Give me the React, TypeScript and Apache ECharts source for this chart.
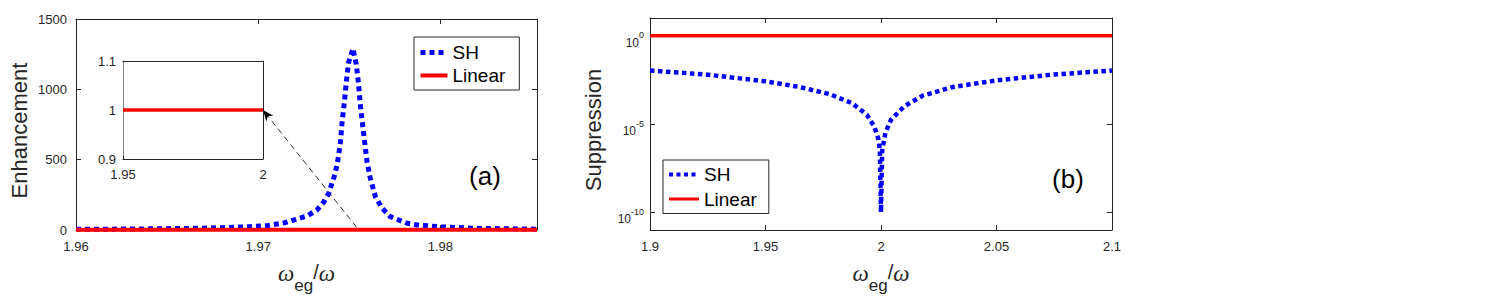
import React, { useEffect, useRef } from 'react';
import * as echarts from 'echarts';

// ---------- data ----------
// Panel (a): enhancement vs omega_eg/omega
const shAX = [1.96, 1.962, 1.964, 1.966, 1.968, 1.9695, 1.97048, 1.97148, 1.97268, 1.97323, 1.97359, 1.97387, 1.97405, 1.97423, 1.97436, 1.97451, 1.9746, 1.97473, 1.97484, 1.97496, 1.9752, 1.97538, 1.97551, 1.9756, 1.97575, 1.97588, 1.97597, 1.97615, 1.97643, 1.9768, 1.97725, 1.97817, 1.97872, 1.98, 1.982, 1.984, 1.9853];
const shAY = [5, 6, 8, 11, 16, 24, 31, 52, 100, 143, 198, 262, 333, 405, 488, 619, 762, 912, 1059, 1190, 1290, 1179, 1036, 893, 726, 583, 488, 369, 238, 155, 95, 48, 36, 22, 12, 8, 6];
const linAX = [1.96, 1.9853];
const linAY = [1, 1];
// inset of panel (a)
const insetX = [1.95, 2];
const insetY = [1, 1];
// Panel (b): suppression (log scale)
const shBX = [1.9, 1.925, 1.95, 1.965, 1.978, 1.9875, 1.9939, 1.9971, 1.999, 1.9995, 2.0, 2.0005, 2.0019, 2.0043, 2.01, 2.018, 2.031, 2.05, 2.074, 2.1];
const shBY = [1.07e-2, 6.2e-3, 2.6e-3, 1.23e-3, 4.8e-4, 1.5e-4, 3.3e-5, 7.2e-6, 1.26e-6, 3e-7, 1e-10, 3e-7, 3.2e-6, 1.7e-5, 1e-4, 4e-4, 1.23e-3, 2.95e-3, 6.2e-3, 1.07e-2];
const linBX = [1.9, 2.1];
const linBY = [1, 1];

// tick labels
const ticksAX = [1.96, 1.97, 1.98];
const ticksAY = [0, 500, 1000, 1500];
const ticksInsetX = [1.95, 2];
const ticksInsetY = [0.9, 1, 1.1];
const ticksBX = [1.9, 1.95, 2, 2.05, 2.1];
const ticksBYExp = [-10, -5, 0];

// arrow annotation (data coords: from main panel to inset)
const arrowFrom = [1.9754, 20];
const arrowTo = [2, 1];

const FONT = 'Liberation Sans';
const AX = '#262626';

const pick = (ticks: number[]) => (v: number) => {
  const t = ticks.find((k) => Math.abs(k - v) < 1e-9);
  return t === undefined ? '' : String(t);
};

const logFmt = (v: number) => {
  if (!(v > 0)) return '';
  const l = Math.log10(v);
  const e = Math.round(l);
  if (Math.abs(l - e) > 1e-6 || ticksBYExp.indexOf(e) < 0) return '';
  return `{b|10}{e|${e}}`;
};

const zip = (xs: number[], ys: number[]) => xs.map((x, i) => [x, ys[i]]);

const axisLine = { show: true, onZero: false, lineStyle: { color: AX, width: 1 } };
const tick = { show: true, inside: true, length: 5, lineStyle: { color: AX, width: 1 } };
const lbl = (ticks: number[], margin = 8) => ({
  formatter: pick(ticks),
  fontSize: 13,
  color: AX,
  fontFamily: FONT,
  margin,
  showMinLabel: true,
  showMaxLabel: true,
});

const xName = '{w|ω}{s|eg}{n|/}{w|ω}';
const xNameStyle = {
  color: AX,
  rich: {
    w: { fontFamily: 'Liberation Serif', fontStyle: 'italic', fontSize: 23, color: AX, lineHeight: 22, verticalAlign: 'top' },
    n: { fontFamily: FONT, fontSize: 20, color: AX, lineHeight: 22, verticalAlign: 'top' },
    s: { fontFamily: FONT, fontSize: 17, color: AX, lineHeight: 32, verticalAlign: 'bottom' },
  },
};

const legendItem = (name: string, width: number, type?: number[]) => ({
  name,
  lineStyle: type ? { width, type } : { width },
  itemStyle: { opacity: 0 },
});

export default function App() {
  const ref = useRef<HTMLDivElement>(null);
  useEffect(() => {
    if (!ref.current) return;
    const chart = echarts.init(ref.current, undefined, { renderer: 'svg' });
    const option: any = {
      animation: false,
      backgroundColor: '#ffffff',
      grid: [
        { left: 76, top: 19, width: 461, height: 211, outerBoundsMode: 'none', containLabel: false },
        { left: 123, top: 61, width: 140, height: 98, outerBoundsMode: 'none', containLabel: false },
        { left: 650, top: 18, width: 462, height: 212, outerBoundsMode: 'none', containLabel: false },
      ],
      xAxis: [
        {
          gridIndex: 0, type: 'value', min: 1.96, max: 1.9853, interval: 0.01, position: 'bottom',
          axisLine, axisTick: tick, axisLabel: lbl(ticksAX, 10), splitLine: { show: false },
          name: xName, nameLocation: 'middle', nameGap: 32, nameTextStyle: xNameStyle,
        },
        {
          gridIndex: 0, type: 'value', min: 1.96, max: 1.9853, interval: 0.01, position: 'top',
          axisLine, axisTick: tick, axisLabel: { show: false }, splitLine: { show: false },
        },
        {
          gridIndex: 1, type: 'value', min: 1.95, max: 2, interval: 0.05, position: 'bottom',
          axisLine, axisTick: { ...tick, length: 3 }, axisLabel: lbl(ticksInsetX, 9), splitLine: { show: false },
        },
        {
          gridIndex: 1, type: 'value', min: 1.95, max: 2, interval: 0.05, position: 'top',
          axisLine, axisTick: { show: false }, axisLabel: { show: false }, splitLine: { show: false },
        },
        {
          gridIndex: 2, type: 'value', min: 1.9, max: 2.1, interval: 0.05, position: 'bottom',
          axisLine, axisTick: tick, axisLabel: lbl(ticksBX, 10), splitLine: { show: false },
          name: xName, nameLocation: 'middle', nameGap: 32, nameTextStyle: xNameStyle,
        },
        {
          gridIndex: 2, type: 'value', min: 1.9, max: 2.1, interval: 0.05, position: 'top',
          axisLine, axisTick: tick, axisLabel: { show: false }, splitLine: { show: false },
        },
      ],
      yAxis: [
        {
          gridIndex: 0, type: 'value', min: 0, max: 1500, interval: 500, position: 'left',
          axisLine, axisTick: tick, axisLabel: lbl(ticksAY, 9), splitLine: { show: false },
          name: 'Enhancement', nameLocation: 'middle', nameGap: 46,
          nameTextStyle: { fontFamily: FONT, fontSize: 22, color: AX, padding: [0, 12, 0, 0] },
        },
        {
          gridIndex: 0, type: 'value', min: 0, max: 1500, interval: 500, position: 'right',
          axisLine, axisTick: tick, axisLabel: { show: false }, splitLine: { show: false },
        },
        {
          gridIndex: 1, type: 'value', min: 0.9, max: 1.1, interval: 0.1, position: 'left',
          axisLine: { ...axisLine, lineStyle: { color: '#808080', width: 1 } }, axisTick: { show: false },
          axisLabel: lbl(ticksInsetY, 7), splitLine: { show: false },
        },
        {
          gridIndex: 1, type: 'value', min: 0.9, max: 1.1, interval: 0.1, position: 'right',
          axisLine, axisTick: { show: false }, axisLabel: { show: false }, splitLine: { show: false },
        },
        {
          gridIndex: 2, type: 'log', logBase: 100000, min: 1e-11, max: 10, position: 'left',
          axisLine, axisTick: tick, splitLine: { show: false },
          axisLabel: {
            formatter: logFmt, margin: 6, padding: [8, 0, 0, 0], showMinLabel: true, showMaxLabel: true,
            rich: {
              b: { fontFamily: FONT, fontSize: 12, color: AX, lineHeight: 18, verticalAlign: 'bottom' },
              e: { fontFamily: FONT, fontSize: 9, color: AX, lineHeight: 10, verticalAlign: 'top' },
            },
          },
          name: 'Suppression', nameLocation: 'middle', nameGap: 46,
          nameTextStyle: { fontFamily: FONT, fontSize: 22, color: AX, padding: [0, 12, 0, 0] },
        },
        {
          gridIndex: 2, type: 'log', logBase: 100000, min: 1e-11, max: 10, position: 'right',
          axisLine, axisTick: tick, axisLabel: { show: false }, splitLine: { show: false },
        },
      ],
      legend: [
        {
          data: [legendItem('SH', 5), legendItem('Linear', 4)],
          orient: 'vertical', left: 414, top: 37, padding: [6, 14, 5, 4],
          itemWidth: 27, itemHeight: 14, itemGap: 4,
          borderColor: AX, borderWidth: 1, selectedMode: false,
          textStyle: { fontFamily: FONT, fontSize: 19, color: '#000', lineHeight: 19 },
        },
        {
          data: [legendItem('SH', 4, [4, 3.5]), legendItem('Linear', 3)],
          orient: 'vertical', left: 663, top: 160, padding: [5, 12, 5, 4],
          itemWidth: 30, itemHeight: 14, itemGap: 5.5,
          borderColor: AX, borderWidth: 1, selectedMode: false,
          textStyle: { fontFamily: FONT, fontSize: 19, color: '#000', lineHeight: 19 },
        },
      ],
      series: [
        {
          name: 'SH', type: 'line', xAxisIndex: 0, yAxisIndex: 0, data: zip(shAX, shAY),
          symbol: 'none', smooth: false, color: '#0000ff',
          lineStyle: { color: '#0000ff', width: 5, type: [5, 4] },
        },
        {
          name: 'Linear', type: 'line', xAxisIndex: 0, yAxisIndex: 0, data: zip(linAX, linAY),
          symbol: 'none', color: '#ff0000', lineStyle: { color: '#ff0000', width: 4 },
        },
        {
          name: 'Linear', type: 'line', xAxisIndex: 2, yAxisIndex: 2, data: zip(insetX, insetY),
          symbol: 'none', color: '#ff0000', lineStyle: { color: '#ff0000', width: 3.5 },
        },
        {
          name: 'SH', type: 'line', xAxisIndex: 4, yAxisIndex: 4, data: zip(shBX, shBY),
          symbol: 'none', color: '#0000ff', lineStyle: { color: '#0000ff', width: 4.5, type: [4.5, 3.5] },
        },
        {
          name: 'Linear', type: 'line', xAxisIndex: 4, yAxisIndex: 4, data: zip(linBX, linBY),
          symbol: 'none', color: '#ff0000', lineStyle: { color: '#ff0000', width: 3.5 },
        },
      ],
    };
    chart.setOption(option);

    const p1 = chart.convertToPixel({ seriesIndex: 0 }, arrowFrom) as number[];
    const p2 = chart.convertToPixel({ seriesIndex: 2 }, arrowTo) as number[];
    const dx = p2[0] - p1[0];
    const dy = p2[1] - p1[1];
    const len = Math.hypot(dx, dy) || 1;
    const ux = dx / len, uy = dy / len;
    const nx = -uy, ny = ux;
    const L = 11, W = 4.5;
    const tip = p2;
    const back = [tip[0] - ux * L, tip[1] - uy * L];
    const notch = [tip[0] - ux * L * 0.7, tip[1] - uy * L * 0.7];
    chart.setOption({
      graphic: [
        {
          type: 'line', id: 'arrowLine', silent: true,
          shape: { x1: p1[0], y1: p1[1], x2: notch[0], y2: notch[1] },
          style: { stroke: '#000', lineWidth: 0.8, lineDash: [6, 4] },
        },
        {
          type: 'polygon', id: 'arrowHead', silent: true,
          shape: {
            points: [
              [tip[0], tip[1]],
              [back[0] + nx * W, back[1] + ny * W],
              [notch[0], notch[1]],
              [back[0] - nx * W, back[1] - ny * W],
            ],
          },
          style: { fill: '#000' },
        },
        {
          type: 'text', id: 'labelA', x: 485, y: 176,
          style: { text: '(a)', fontFamily: FONT, fontSize: 26, fill: '#000', align: 'center', verticalAlign: 'middle' },
        },
        {
          type: 'text', id: 'labelB', x: 1068, y: 179,
          style: { text: '(b)', fontFamily: FONT, fontSize: 26, fill: '#000', align: 'center', verticalAlign: 'middle' },
        },
      ],
    });
    return () => chart.dispose();
  }, []);
  return (
    <div
      ref={ref}
      style={{ position: 'absolute', left: 0, top: 0, width: 1500, height: 297, background: '#fff' }}
    />
  );
}
